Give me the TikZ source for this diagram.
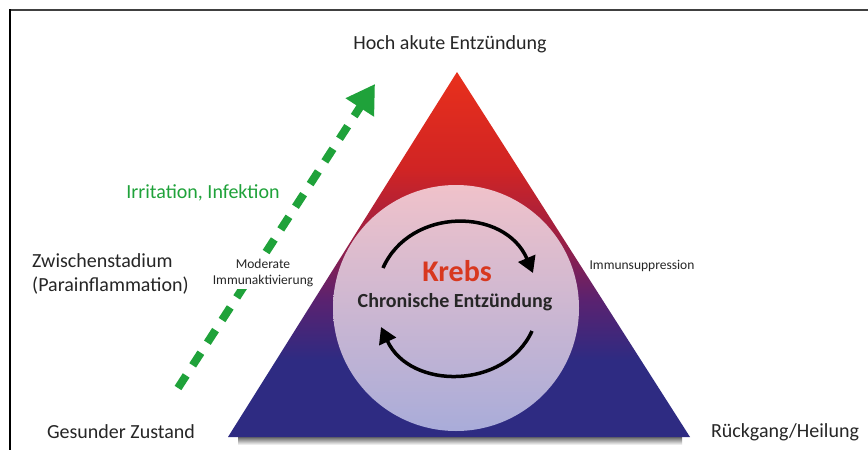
\documentclass[tikz,border=0pt]{standalone}
\usepackage{fontspec}
\setmainfont{Carlito}
\usetikzlibrary{arrows.meta}
\definecolor{triblue}{HTML}{2E2B82}
\definecolor{tripurple}{HTML}{5A2270}
\definecolor{tridark}{HTML}{9A1F45}
\definecolor{trired}{HTML}{D02424}
\definecolor{tritop}{HTML}{E8301C}
\definecolor{circtop}{HTML}{F0C2CA}
\definecolor{circbot}{HTML}{A9ACD9}
\definecolor{arrgreen}{HTML}{1FA23A}
\definecolor{krebsred}{HTML}{D8381F}
\pgfdeclareverticalshading{trishade}{100bp}{color(0bp)=(triblue); color(25bp)=(triblue); color(35.5bp)=(triblue); color(43.8bp)=(tripurple); color(52bp)=(tridark); color(61.6bp)=(trired); color(75bp)=(tritop); color(100bp)=(tritop)}
\tikzset{
  lbl/.style={font=\fontsize{20}{24}\selectfont, text=black!85, inner sep=1pt},
  small/.style={font=\fontsize{13.5}{16}\selectfont, text=black!85, inner sep=2pt, align=center},
  cyc/.style={line width=3.5pt, black, -{Triangle[length=16pt,width=18pt]}},
}
\begin{document}
\begin{tikzpicture}[x=1pt,y=-1pt]
\useasboundingbox (0,0) rectangle (868,450);
\fill[white] (0,0) rectangle (868,450);
% frame
\draw[line width=2pt, black!75] (9,9.5) -- (868,9.5);
\draw[line width=2pt, black] (9.5,9) -- (9.5,450);
% shadow under base
\shade[top color=black!60, bottom color=white] (238,437) rectangle (682,445);
% triangle
\coordinate (apex) at (457,72);
\coordinate (bl) at (228,437);
\coordinate (br) at (690,437);
\shade[shading=trishade] (apex) -- (br) -- (bl) -- cycle;
% circle
\begin{scope}
\clip (bl) rectangle (868,0);
\shade[top color=circtop, bottom color=circbot] (456,308) circle (123);
\end{scope}
% cycle arrows
\coordinate (t1) at (383,268);
\coordinate (t2) at (533,273);
\coordinate (b1) at (532,331);
\coordinate (b2) at (381,327);
\draw[cyc] (t1) .. controls (410,207) and (505,207) .. (t2);
\draw[cyc] (b1) .. controls (505,390) and (410,390) .. (b2);
% center text
\node[font=\bfseries\fontsize{30}{32}\selectfont, text=krebsred] (krebs) at (457,271) {Krebs};
\node[font=\bfseries\fontsize{20}{22}\selectfont, text=black!85] (chron) at (455,302) {Chronische Entzündung};
% green dashed arrow
\coordinate (gs) at (178,388);
\coordinate (ge) at (375,84);
\draw[arrgreen, line width=8pt, dash pattern=on 15pt off 12pt, -{Triangle[length=28pt,width=32pt]}] (gs) -- (ge);
% labels
\node[lbl] (top) at (450,44) {Hoch akute Entzündung};
\node[lbl, text=arrgreen] (irr) at (203,193) {Irritation, Infektion};
\node[lbl, anchor=west, align=left] (zw) at (31,274) {Zwischenstadium\\(Parainflammation)};
\node[small, fill=white] (mod) at (263,273) {Moderate\\Immunaktivierung};
\node[small] (sup) at (642,266) {Immunsuppression};
\node[lbl] (ges) at (121,432) {Gesunder Zustand};
\node[lbl] (rue) at (785,432) {Rückgang/Heilung};
\end{tikzpicture}
\end{document}
